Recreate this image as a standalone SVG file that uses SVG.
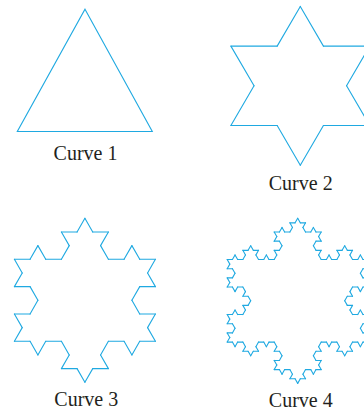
<svg xmlns="http://www.w3.org/2000/svg" xmlns:xlink="http://www.w3.org/1999/xlink" width="364" height="411" viewBox="0 0 364 411">
<style>
.seg{fill:none;stroke:#1FA9E1;stroke-width:1.1;stroke-linecap:round;stroke-linejoin:miter;vector-effect:non-scaling-stroke}
.lbl{font-family:"Liberation Serif","Times New Roman",serif;font-size:20px;fill:#231F20;text-anchor:middle}
</style>
<defs>
<path id="k0" class="seg" d="M0,0 H1"/>
<g id="k1">
<use href="#k0" transform="scale(0.3333333)"/>
<use href="#k0" transform="translate(0.3333333,0) rotate(-60) scale(0.3333333)"/>
<use href="#k0" transform="translate(0.5,-0.2886751) rotate(60) scale(0.3333333)"/>
<use href="#k0" transform="translate(0.6666667,0) scale(0.3333333)"/>
</g>
<g id="k2">
<use href="#k1" transform="scale(0.3333333)"/>
<use href="#k1" transform="translate(0.3333333,0) rotate(-60) scale(0.3333333)"/>
<use href="#k1" transform="translate(0.5,-0.2886751) rotate(60) scale(0.3333333)"/>
<use href="#k1" transform="translate(0.6666667,0) scale(0.3333333)"/>
</g>
<g id="k3">
<use href="#k2" transform="scale(0.3333333)"/>
<use href="#k2" transform="translate(0.3333333,0) rotate(-60) scale(0.3333333)"/>
<use href="#k2" transform="translate(0.5,-0.2886751) rotate(60) scale(0.3333333)"/>
<use href="#k2" transform="translate(0.6666667,0) scale(0.3333333)"/>
</g>
</defs>
<g id="curve1">
<polygon class="seg" points="85,9.2 152.3,131.5 17.3,131.5"/>
<text class="lbl" x="85.5" y="159.5">Curve 1</text>
</g>
<g id="curve2">
<g transform="translate(300.3,85.8) scale(138.8,137.5)">
<use href="#k1" transform="translate(0,-0.5773503) rotate(60)"/>
<use href="#k1" transform="translate(0.5,0.2886751) rotate(180)"/>
<use href="#k1" transform="translate(-0.5,0.2886751) rotate(-60)"/>
</g>
<text class="lbl" x="300.7" y="190">Curve 2</text>
</g>
<g id="curve3">
<g transform="translate(84.9,300.3) scale(141,142)">
<use href="#k2" transform="translate(0,-0.5773503) rotate(60)"/>
<use href="#k2" transform="translate(0.5,0.2886751) rotate(180)"/>
<use href="#k2" transform="translate(-0.5,0.2886751) rotate(-60)"/>
</g>
<text class="lbl" x="86.3" y="406">Curve 3</text>
</g>
<g id="curve4">
<g transform="translate(297.7,300.8) scale(141,143)">
<use href="#k3" transform="translate(0,-0.5773503) rotate(60)"/>
<use href="#k3" transform="translate(0.5,0.2886751) rotate(180)"/>
<use href="#k3" transform="translate(-0.5,0.2886751) rotate(-60)"/>
</g>
<text class="lbl" x="300.8" y="407">Curve 4</text>
</g>
</svg>
